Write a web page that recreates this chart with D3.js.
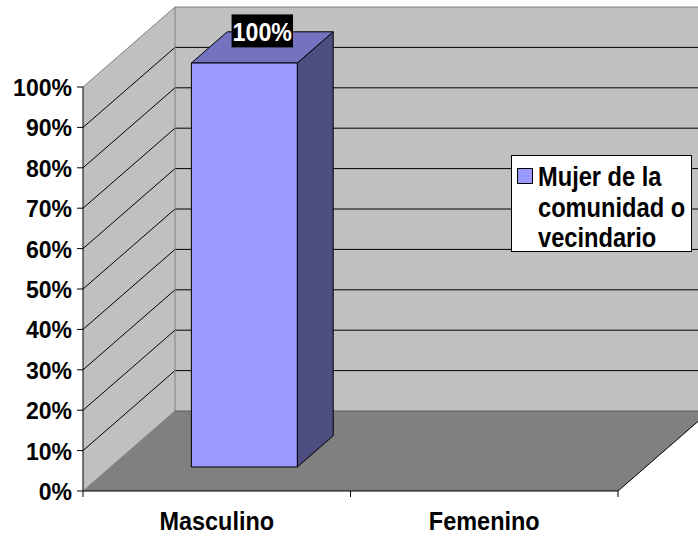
<!DOCTYPE html>
<html>
<head>
<meta charset="utf-8">
<script src="https://cdn.jsdelivr.net/npm/d3@7"></script>
<style>
  html, body { margin: 0; padding: 0; background: #fff; }
  svg { display: block; }
  text { font-family: "Liberation Sans", Arial, sans-serif; font-weight: bold; }
</style>
</head>
<body>
<svg id="chart" width="698" height="537"></svg>
<script>
// Data
const categories = ["Masculino", "Femenino"];
const values = [1.0, null];
const seriesName = ["Mujer de la", "comunidad o", "vecindario"];
const yTicks = [0, 0.1, 0.2, 0.3, 0.4, 0.5, 0.6, 0.7, 0.8, 0.9, 1.0];

const W = 698, H = 537;
const svg = d3.select("#chart");
const pct = d3.format(".0%");

// Text helper: bold text, slightly condensed horizontally
function label(parent, px, py, str, size, sx, anchor, color) {
  return parent.append("text")
    .attr("transform", `translate(${px},${py}) scale(${sx},1)`)
    .attr("text-anchor", anchor || "start")
    .attr("font-size", size)
    .attr("fill", color || "#000")
    .text(str);
}

// Front plane scales
const x = d3.scaleBand().domain(categories).range([83, 618]).paddingInner(0).paddingOuter(0);
const y = d3.scaleLinear().domain([0, 1]).range([491, 87]);

// Oblique depth projection (d = 0 front, d = 1 back wall)
const DX = 92, DY = -80;
const P = (px, py, d) => [px + DX * d, py + DY * d];
const poly = pts => "M" + pts.map(p => p.join(",")).join("L") + "Z";

const clip = svg.append("defs").append("clipPath").attr("id", "clipArea");
clip.append("rect").attr("x", 0).attr("y", 0).attr("width", W).attr("height", H);
const g = svg.append("g").attr("clip-path", "url(#clipArea)");

const x0 = x.range()[0], x1 = x.range()[1];
const xRightBack = x1 + DX + 200;

// Back wall
g.append("path")
  .attr("d", poly([P(x0, y(1), 1), [xRightBack, y(1) + DY], [xRightBack, y(0) + DY], P(x0, y(0), 1)]))
  .attr("fill", "#c0c0c0");

// Side wall
g.append("path")
  .attr("d", poly([[x0, y(1)], P(x0, y(1), 1), P(x0, y(0), 1), [x0, y(0)]]))
  .attr("fill", "#c0c0c0");

// Floor
g.append("path")
  .attr("d", poly([[x0, y(0)], P(x0, y(0), 1), P(x1, y(0), 1), [x1, y(0)]]))
  .attr("fill", "#808080");

// Gridlines (side wall diagonal + back wall horizontal)
yTicks.filter(t => t > 0 && t < 1).forEach(t => {
  const a = [x0, y(t)], b = P(x0, y(t), 1);
  g.append("line").attr("x1", a[0]).attr("y1", a[1]).attr("x2", b[0]).attr("y2", b[1])
    .attr("stroke", "#000").attr("stroke-width", 1);
  g.append("line").attr("x1", b[0]).attr("y1", b[1]).attr("x2", xRightBack).attr("y2", b[1])
    .attr("stroke", "#000").attr("stroke-width", 1);
});

// Wall edges
const edge = (a, b, c) => g.append("line").attr("x1", a[0]).attr("y1", a[1]).attr("x2", b[0]).attr("y2", b[1])
  .attr("stroke", c).attr("stroke-width", 1);
edge([x0, y(1)], P(x0, y(1), 1), "#808080");
edge(P(x0, y(1), 1), [xRightBack, y(1) + DY], "#808080");
edge(P(x0, y(1), 1), P(x0, y(0), 1), "#808080");
edge([x0, y(0)], P(x0, y(0), 1), "#808080");
edge(P(x0, y(0), 1), [xRightBack, y(0) + DY], "#606060");
edge([x1, y(0)], P(x1, y(0), 1), "#000");

// Bars
const barFrac = 0.396, d0 = 0.3, d1 = 0.69;
const fill = "#9999ff", topFill = "#7373bf", sideFill = "#4d4d80";
categories.forEach((c, i) => {
  const v = values[i];
  if (v == null) return;
  const cx = x(c) + x.bandwidth() / 2;
  const bw = x.bandwidth() * barFrac;
  const L = cx - bw / 2, R = cx + bw / 2;
  const yt = y(v), yb = y(0);
  g.append("path").attr("d", poly([P(R, yt, d0), P(R, yt, d1), P(R, yb, d1), P(R, yb, d0)]))
    .attr("fill", sideFill).attr("stroke", "#000").attr("stroke-width", 1).attr("stroke-linejoin", "round");
  g.append("path").attr("d", poly([P(L, yt, d0), P(L, yt, d1), P(R, yt, d1), P(R, yt, d0)]))
    .attr("fill", topFill).attr("stroke", "#000").attr("stroke-width", 1).attr("stroke-linejoin", "round");
  g.append("path").attr("d", poly([P(L, yt, d0), P(R, yt, d0), P(R, yb, d0), P(L, yb, d0)]))
    .attr("fill", fill).attr("stroke", "#000").attr("stroke-width", 1).attr("stroke-linejoin", "round");

  // Data label above the bar top
  const lp = P(cx, yt, (d0 + d1) / 2);
  const lbl = g.append("g");
  const rect = lbl.append("rect").attr("fill", "#000");
  const sx = 0.93;
  const txt = label(lbl, lp[0], lp[1] - 6, pct(v), 25, sx, "middle", "#fff");
  const bb = txt.node().getBBox();
  const w = bb.width * sx + 2;
  rect.attr("x", lp[0] - w / 2).attr("y", lp[1] - 33).attr("width", w).attr("height", 33);
});

// Y axis (front left edge)
svg.append("line").attr("x1", x0).attr("y1", y(1)).attr("x2", x0).attr("y2", y(0))
  .attr("stroke", "#000").attr("stroke-width", 1);
yTicks.forEach(t => {
  svg.append("line").attr("x1", x0 - 6).attr("y1", y(t)).attr("x2", x0).attr("y2", y(t))
    .attr("stroke", "#000").attr("stroke-width", 1);
  label(svg, x0 - 11, y(t) + 9, pct(t), 24, 0.96, "end");
});

// X axis (front floor edge)
svg.append("line").attr("x1", x0).attr("y1", y(0)).attr("x2", x1).attr("y2", y(0))
  .attr("stroke", "#000").attr("stroke-width", 1);
[x0, x0 + x.bandwidth(), x1].forEach(px => {
  svg.append("line").attr("x1", px).attr("y1", y(0)).attr("x2", px).attr("y2", y(0) + 6)
    .attr("stroke", "#000").attr("stroke-width", 1);
});
categories.forEach(c => {
  label(svg, x(c) + x.bandwidth() / 2, 530, c, 25.5, 0.92, "middle");
});

// Legend
const lg = svg.append("g");
lg.append("rect").attr("x", 511.5).attr("y", 155.5).attr("width", 180).attr("height", 96)
  .attr("fill", "#fff").attr("stroke", "#000").attr("stroke-width", 1);
lg.append("rect").attr("x", 517.5).attr("y", 168.5).attr("width", 15).attr("height", 15)
  .attr("fill", fill).attr("stroke", "#000").attr("stroke-width", 1);
seriesName.forEach((s, i) => {
  label(lg, 538, 186 + i * 30.5, s, 28.5, 0.83, "start");
});
</script>
</body>
</html>
